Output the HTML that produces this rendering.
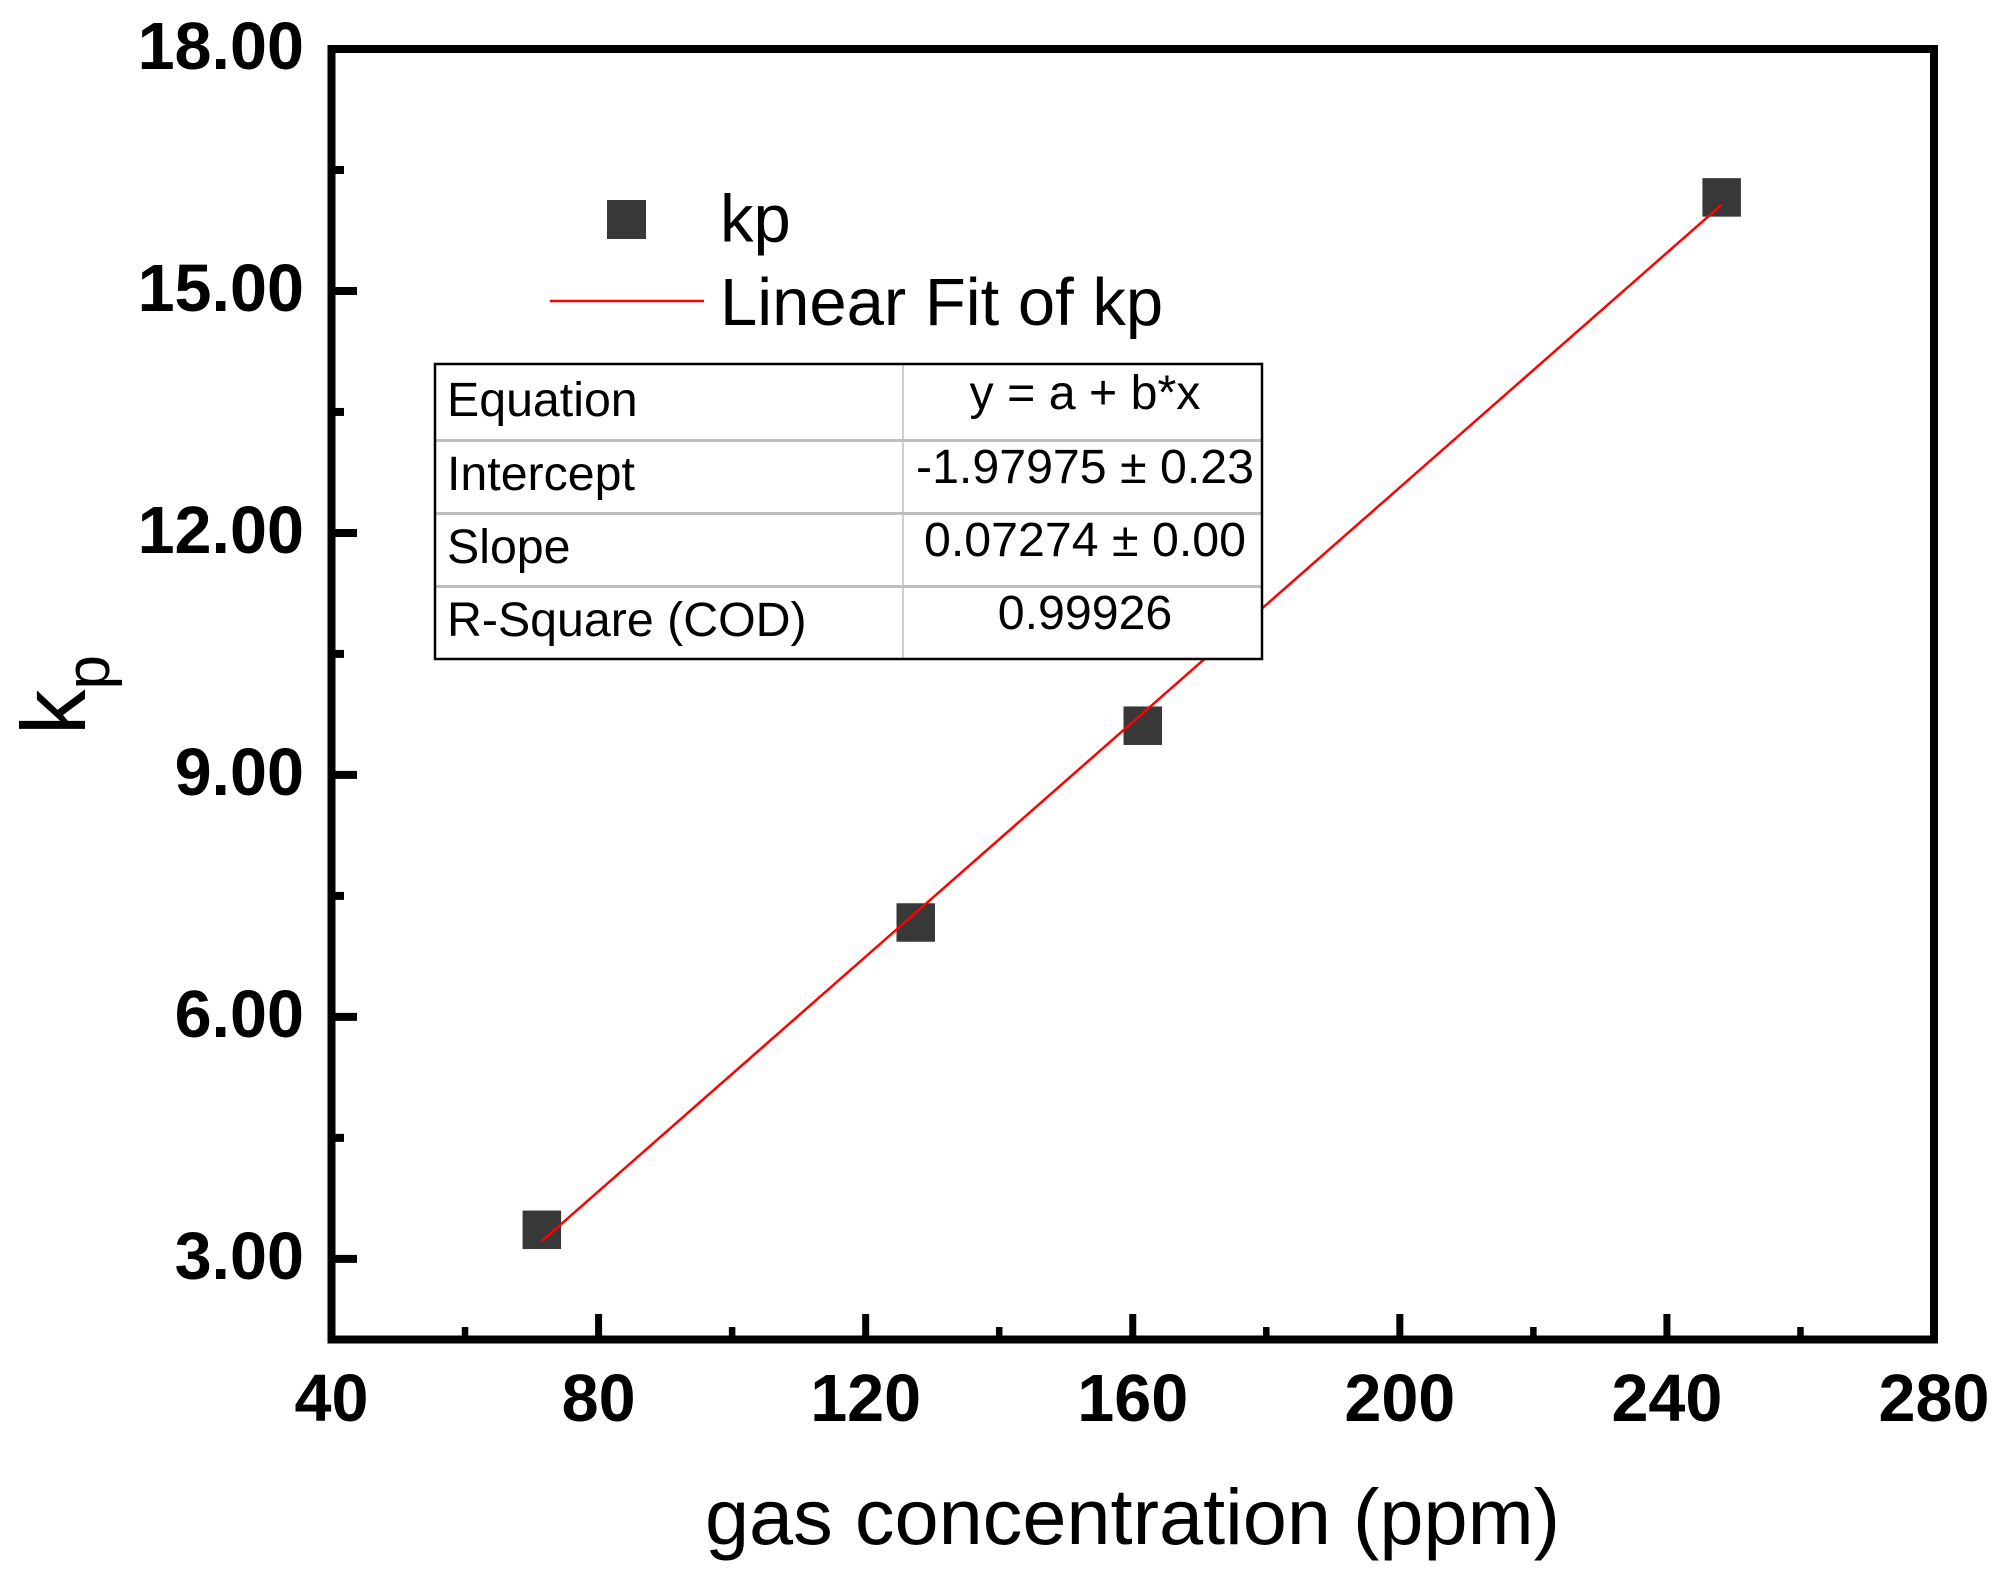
<!DOCTYPE html>
<html lang="en">
<head>
<meta charset="utf-8">
<title>kp vs gas concentration</title>
<style>
html,body{margin:0;padding:0;background:#fff;width:2009px;height:1579px;overflow:hidden}
svg{display:block}
text{font-family:"Liberation Sans",Arial,sans-serif;fill:#000}
</style>
</head>
<body>
<svg id="chart" xmlns="http://www.w3.org/2000/svg" width="2009" height="1579" viewBox="0 0 2009 1579">
  <rect x="0" y="0" width="2009" height="1579" fill="#fff"/>
  <g id="fit-layer"></g>
  <g id="point-layer"></g>
  <g>
    <rect x="435" y="364" width="827" height="295" fill="#fff"/>
    <line x1="435" x2="1262" y1="440.5" y2="440.5" stroke="#bfbfbf" stroke-width="3"/>
    <line x1="435" x2="1262" y1="513.5" y2="513.5" stroke="#bfbfbf" stroke-width="3"/>
    <line x1="435" x2="1262" y1="586.5" y2="586.5" stroke="#bfbfbf" stroke-width="3"/>
    <line x1="903" x2="903" y1="364" y2="659" stroke="#bfbfbf" stroke-width="1.5"/>
    <rect x="435" y="364" width="827" height="295" fill="none" stroke="#000" stroke-width="2.5"/>
    <text x="447" y="416" font-size="48.3">Equation</text>
    <text x="447" y="490" font-size="48.3">Intercept</text>
    <text x="447" y="563" font-size="48.3">Slope</text>
    <text x="447" y="636" font-size="48.3">R-Square (COD)</text>
    <text x="1085" y="409" font-size="48.3" text-anchor="middle">y = a + b*x</text>
    <text x="1085" y="483" font-size="48.3" text-anchor="middle">-1.97975 ± 0.23</text>
    <text x="1085" y="556" font-size="48.3" text-anchor="middle">0.07274 ± 0.00</text>
    <text x="1085" y="629" font-size="48.3" text-anchor="middle">0.99926</text>
  </g>
  <g id="axis-layer"></g>
  <rect x="331.5" y="49" width="1602.5" height="1290.5" fill="none" stroke="#000" stroke-width="8"/>
  <g>
    <rect x="607" y="200" width="39" height="39" fill="#383838"/>
    <text x="720" y="241.5" font-size="67">kp</text>
    <line x1="550" x2="704" y1="301" y2="301" stroke="#ff0000" stroke-width="2.5"/>
    <text x="720" y="325" font-size="67">Linear Fit of kp</text>
  </g>
  <text x="1132.5" y="1544" font-size="79.3" text-anchor="middle">gas concentration (ppm)</text>
  <text transform="translate(85,735) rotate(-90)" font-size="91">k<tspan font-size="62" dy="24">p</tspan></text>
</svg>
<script>
const xMajorTicks = [40, 80, 120, 160, 200, 240, 280];
const xTickLabels = ['40', '80', '120', '160', '200', '240', '280'];
const xMinorTicks = [60, 100, 140, 180, 220, 260];
const yMajorTicks = [3, 6, 9, 12, 15, 18];
const yTickLabels = ['3.00', '6.00', '9.00', '12.00', '15.00', '18.00'];
const yMinorTicks = [4.5, 7.5, 10.5, 13.5, 16.5];
const xDomain = [40, 280];
const yDomain = [2, 18];
const pointsX = [71.5, 127.5, 161.5, 248.2];
const pointsY = [3.36, 7.17, 9.61, 16.16];
const fitX = [71.5, 248.2];
const fitY = [3.22, 16.07];

const svgNS = 'http://www.w3.org/2000/svg';
const xScale = v => 331.5 + (v - xDomain[0]) * (1934 - 331.5) / (xDomain[1] - xDomain[0]);
const yScale = v => 1339.5 - (v - yDomain[0]) * (1339.5 - 49) / (yDomain[1] - yDomain[0]);
const axisLayer = document.getElementById('axis-layer');
const pointLayer = document.getElementById('point-layer');
const fitLayer = document.getElementById('fit-layer');

function drawLine(parent, x1, y1, x2, y2, width) {
  const el = document.createElementNS(svgNS, 'line');
  el.setAttribute('x1', x1);
  el.setAttribute('y1', y1);
  el.setAttribute('x2', x2);
  el.setAttribute('y2', y2);
  el.setAttribute('stroke', '#000');
  el.setAttribute('stroke-width', width);
  parent.appendChild(el);
  return el;
}

function drawLabel(parent, x, y, anchor, content) {
  const el = document.createElementNS(svgNS, 'text');
  el.setAttribute('x', x);
  el.setAttribute('y', y);
  el.setAttribute('text-anchor', anchor);
  el.setAttribute('font-size', '66.5');
  el.setAttribute('font-weight', '700');
  el.textContent = content;
  parent.appendChild(el);
  return el;
}

xMajorTicks.forEach((v, i) => {
  const tick = drawLine(axisLayer, xScale(v), 1314, xScale(v), 1336, 7);
  
  
  const label = drawLabel(axisLayer, xScale(v), 1421, 'middle', xTickLabels[i]);
  
  
});

xMinorTicks.forEach(v => {
  const tick = drawLine(axisLayer, xScale(v), 1327, xScale(v), 1336, 6.5);
  
  
});

yMajorTicks.forEach((v, i) => {
  const tick = drawLine(axisLayer, 335, yScale(v), 357, yScale(v), 8);
  
  
  const label = drawLabel(axisLayer, 304, yScale(v) + 20, 'end', yTickLabels[i]);
  
  
});

yMinorTicks.forEach(v => {
  const tick = drawLine(axisLayer, 335, yScale(v), 344, yScale(v), 8);
  
  
});

pointsX.forEach((v, i) => {
  const pt = document.createElementNS(svgNS, 'rect');
  pt.setAttribute('x', xScale(v) - 19.25);
  pt.setAttribute('y', yScale(pointsY[i]) - 19.25);
  pt.setAttribute('width', 38.5);
  pt.setAttribute('height', 38.5);
  pt.setAttribute('fill', '#383838');
  
  
  pointLayer.appendChild(pt);
});

const fitLine = document.createElementNS(svgNS, 'polyline');
fitLine.setAttribute('points', fitX.map((v, i) => xScale(v) + ',' + yScale(fitY[i])).join(' '));
fitLine.setAttribute('fill', 'none');
fitLine.setAttribute('stroke', '#ff0000');
fitLine.setAttribute('stroke-width', '2.5');


fitLayer.appendChild(fitLine);
// Draw the fit above the markers, as in the reference.
pointLayer.parentNode.insertBefore(pointLayer, fitLayer);
</script>
</body>
</html>
